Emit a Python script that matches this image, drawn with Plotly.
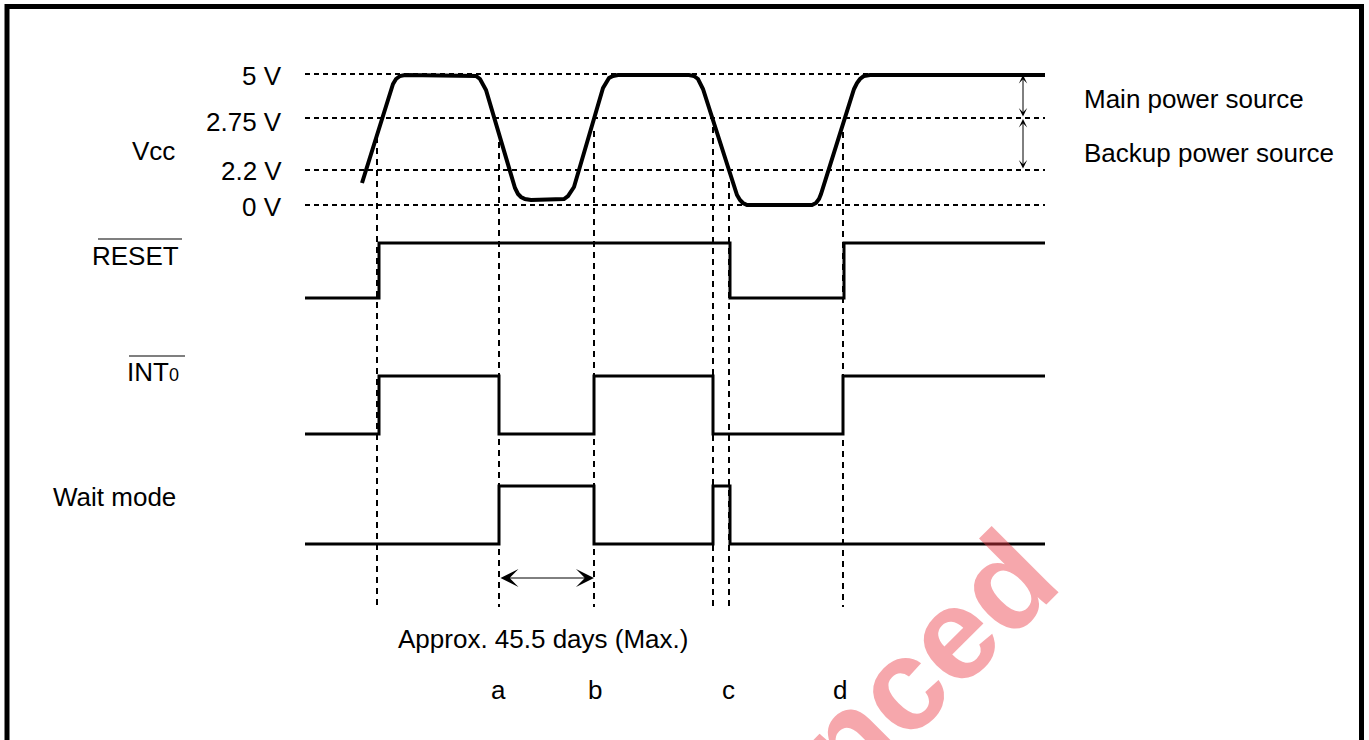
import plotly.graph_objects as go

# ---------------- data (diagram units = pixels of the drawing) ----------------
LEVEL_LABELS = ["5 V", "2.75 V", "2.2 V", "0 V"]
LEVEL_Y = [74, 118, 170, 205]
LEVEL_X_RANGE = [305, 1045]

# Vcc waveform (time, level)
VCC_T = [362, 390, 393, 396, 400, 405, 471, 476, 480, 483, 486,
         515, 518, 521, 525, 531, 558, 564, 568, 571, 574,
         603, 606, 609, 613, 618, 689, 694, 698, 701, 703,
         737, 740, 743, 747, 753, 806, 812, 816, 819, 821,
         854, 857, 860, 864, 870, 1045]
VCC_V = [183, 93, 84, 79, 76, 75, 75, 76, 79, 84, 90,
         188, 194, 197, 199, 200, 200, 199, 196, 192, 187,
         88, 82, 78, 76, 75, 75, 76, 79, 84, 89,
         195, 200, 203, 205, 205, 205, 205, 203, 199, 194,
         89, 83, 79, 76, 75, 75]

# digital signals (step after each time)
RESET_T = [305, 379, 730, 844, 1045]
RESET_V = [298, 243, 298, 243, 243]
INT0_T = [305, 379, 499, 594, 713, 843, 1045]
INT0_V = [434, 376, 434, 376, 434, 376, 376]
WAIT_T = [305, 499, 594, 713, 730, 1045]
WAIT_V = [544, 486, 544, 486, 544, 544]

# vertical reference (dashed) lines
EVENT_X = [377, 499, 594, 713, 729, 843]
EVENT_TOP = [137, 131, 131, 127, 182, 132]
EVENT_BOTTOM = 607

POINT_LABELS = ["a", "b", "c", "d"]
POINT_X = [498, 595, 728, 840]

SIGNAL_LABELS = ["Vcc", "RESET", "INT<span style='font-size:18px'>0</span>", "Wait mode"]

FONT = "Arial, 'Liberation Sans', Helvetica, sans-serif"
W, H = 1369, 740

fig = go.Figure()

# dashed horizontal level lines
hx, hy = [], []
for y in LEVEL_Y:
    hx += [LEVEL_X_RANGE[0], LEVEL_X_RANGE[1], None]
    hy += [y, y, None]
fig.add_trace(go.Scatter(x=hx, y=hy, mode="lines",
                         line=dict(color="black", width=2, dash="5px,4px"),
                         hoverinfo="skip", showlegend=False))

# dashed vertical event lines
vx, vy = [], []
for x, top in zip(EVENT_X, EVENT_TOP):
    vx += [x, x, None]
    vy += [top, EVENT_BOTTOM, None]
fig.add_trace(go.Scatter(x=vx, y=vy, mode="lines",
                         line=dict(color="black", width=2, dash="6px,5px"),
                         hoverinfo="skip", showlegend=False))

# Vcc
fig.add_trace(go.Scatter(x=VCC_T, y=VCC_V, mode="lines",
                         line=dict(color="black", width=4),
                         hoverinfo="skip", showlegend=False))

# digital signals
for t, v in [(RESET_T, RESET_V), (INT0_T, INT0_V), (WAIT_T, WAIT_V)]:
    fig.add_trace(go.Scatter(x=t, y=v, mode="lines", line_shape="hv",
                             line=dict(color="black", width=3),
                             hoverinfo="skip", showlegend=False))

# overlines of active-low signal names
fig.add_trace(go.Scatter(x=[98, 182, None, 129, 185], y=[239, 239, None, 356, 356],
                         mode="lines", line=dict(color="black", width=1.2),
                         hoverinfo="skip", showlegend=False))

# frame
fig.add_trace(go.Scatter(x=[7, 7, 1361.5, 1361.5], y=[760, 6.5, 6.5, 760],
                         mode="lines", line=dict(color="black", width=5),
                         hoverinfo="skip", showlegend=False))

ann = []
txt = dict(color="black", size=26, family=FONT)
label_y = [76, 122, 171, 207]
for lab, y in zip(LEVEL_LABELS, label_y):
    ann.append(dict(x=284, y=y, text=lab, xanchor="right", yanchor="middle",
                    showarrow=False, font=txt))
ann.append(dict(x=153, y=151, text=SIGNAL_LABELS[0], xanchor="center", yanchor="middle",
                showarrow=False, font=txt))
ann.append(dict(x=181, y=256, text=SIGNAL_LABELS[1], xanchor="right", yanchor="middle",
                showarrow=False, font=txt))
ann.append(dict(x=181, y=372, text=SIGNAL_LABELS[2], xanchor="right", yanchor="middle",
                showarrow=False, font=txt))
ann.append(dict(x=178, y=497, text=SIGNAL_LABELS[3], xanchor="right", yanchor="middle",
                showarrow=False, font=txt))
ann.append(dict(x=1082, y=99, text="Main power source", xanchor="left", yanchor="middle",
                showarrow=False, font=txt))
ann.append(dict(x=1082, y=153, text="Backup power source", xanchor="left", yanchor="middle",
                showarrow=False, font=txt))
ann.append(dict(x=543, y=639, text="Approx. 45.5 days (Max.)", xanchor="center", yanchor="middle",
                showarrow=False, font=txt))
for lab, x in zip(POINT_LABELS, POINT_X):
    ann.append(dict(x=x, y=690, text=lab, xanchor="center", yanchor="middle",
                    showarrow=False, font=txt))

# double-headed arrows
def darrow(x0, y0, x1, y1, size, width):
    return dict(x=x1, y=y1, ax=x0, ay=y0, xref="x", yref="y", axref="x", ayref="y",
                text="", showarrow=True, arrowhead=3, startarrowhead=3,
                arrowside="end+start", arrowsize=size, startarrowsize=size,
                arrowwidth=width, arrowcolor="black", standoff=0, startstandoff=0)

ann.append(darrow(1023, 118, 1023, 75, 1.4, 1))
ann.append(darrow(1023, 170, 1023, 119, 1.4, 1))
ann.append(darrow(499, 578, 594, 578, 3, 1))

# watermark
ann.append(dict(x=925, y=662, text="<b>nced</b>", textangle=-45, showarrow=False,
                xanchor="center", yanchor="middle",
                font=dict(family=FONT, size=130, color="rgba(236,60,70,0.45)")))

fig.update_layout(
    width=W, height=H, margin=dict(l=0, r=0, t=0, b=0),
    paper_bgcolor="white", plot_bgcolor="white",
    xaxis=dict(range=[0, W], visible=False, fixedrange=True),
    yaxis=dict(range=[H, 0], visible=False, fixedrange=True),
    annotations=ann, showlegend=False,
)

fig.write_html("out.html", config={"displayModeBar": False},
               post_script="document.body.style.margin='0';document.body.style.overflow='hidden';")
